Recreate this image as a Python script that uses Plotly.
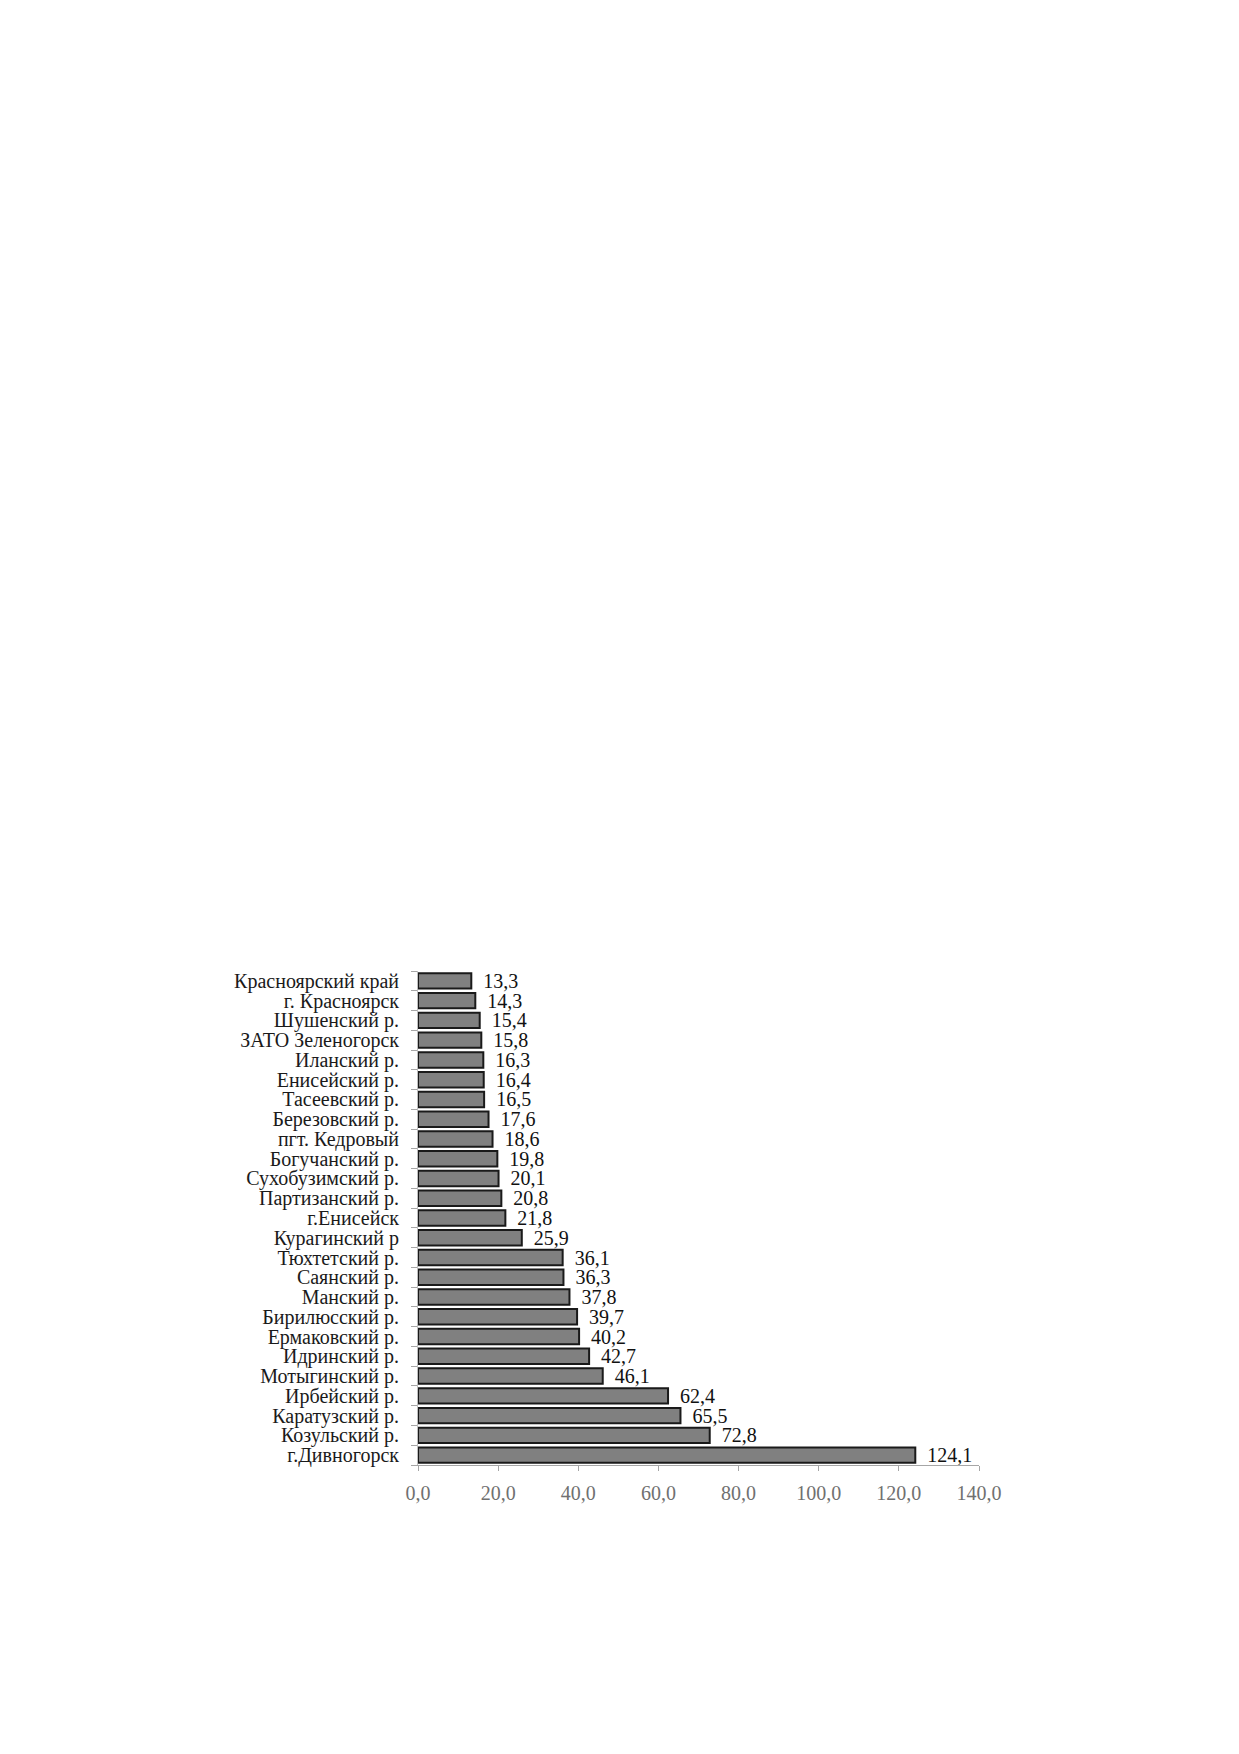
import plotly.graph_objects as go

# Районы (сверху вниз) и значения показателя
districts = [
    "Красноярский край", "г. Красноярск", "Шушенский р.", "ЗАТО Зеленогорск",
    "Иланский р.", "Енисейский р.", "Тасеевский р.", "Березовский р.",
    "пгт. Кедровый", "Богучанский р.", "Сухобузимский р.", "Партизанский р.",
    "г.Енисейск", "Курагинский р", "Тюхтетский р.", "Саянский р.",
    "Манский р.", "Бирилюсский р.", "Ермаковский р.", "Идринский р.",
    "Мотыгинский р.", "Ирбейский р.", "Каратузский р.", "Козульский р.",
    "г.Дивногорск",
]
values = [
    13.3, 14.3, 15.4, 15.8, 16.3, 16.4, 16.5, 17.6, 18.6, 19.8, 20.1, 20.8,
    21.8, 25.9, 36.1, 36.3, 37.8, 39.7, 40.2, 42.7, 46.1, 62.4, 65.5, 72.8,
    124.1,
]
x_ticks = [0, 20, 40, 60, 80, 100, 120, 140]

fig = go.Figure(go.Bar(
    x=values,
    y=districts,
    orientation="h",
    marker=dict(color="#808080", line=dict(color="#1a1a1a", width=2)),
    texttemplate="\u00a0\u2009%{x:.1f}",
    textposition="outside",
    constraintext="none",
    textfont=dict(family="Liberation Serif", size=20, color="#111111"),
    cliponaxis=False,
))

# страница html имеет отступ 8px, поэтому поля уменьшены на 8
fig.update_layout(
    width=1239,
    height=1754,
    autosize=False,
    margin=dict(l=410, r=268, t=963, b=297),
    paper_bgcolor="white",
    plot_bgcolor="white",
    separators=", ",
    bargap=0.22,
    showlegend=False,
    font=dict(family="Liberation Serif", size=20, color="#111111"),
)

fig.update_xaxes(
    range=[0, 140],
    tickvals=x_ticks,
    tickformat=".1f",
    showgrid=False,
    zeroline=False,
    showline=True,
    linecolor="#a6a6a6",
    linewidth=1,
    ticks="outside",
    ticklen=5,
    tickcolor="#a6a6a6",
    ticklabelstandoff=5,
    tickfont=dict(family="Liberation Serif", size=20, color="#707070"),
)

fig.update_yaxes(
    autorange="reversed",
    tickmode="array",
    tickvals=districts,
    ticktext=districts,
    showgrid=False,
    showline=True,
    linecolor="#bfbfbf",
    linewidth=1,
    ticks="outside",
    tickson="boundaries",
    ticklen=6,
    tickcolor="#a6a6a6",
    ticklabelstandoff=14,
    tickfont=dict(family="Liberation Serif", size=20, color="#1a1a1a"),
)

fig.write_html("out.html")
